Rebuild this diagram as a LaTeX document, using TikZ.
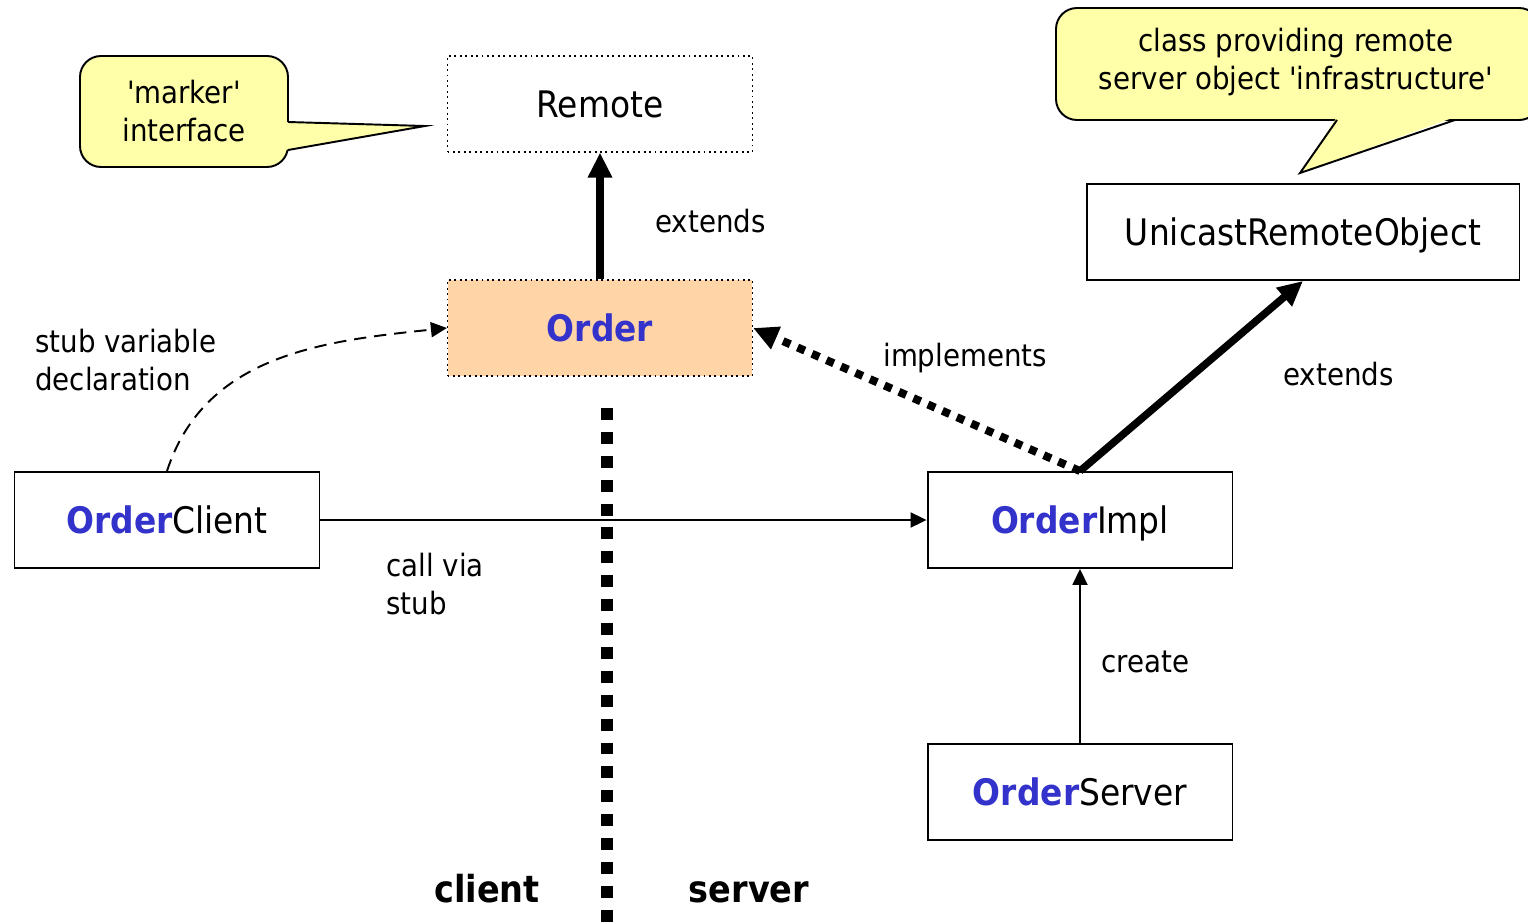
\documentclass[tikz,border=0pt]{standalone}
\usepackage{fontspec}
\setmainfont{DejaVu Sans Condensed}
\usetikzlibrary{arrows.meta,positioning}

\definecolor{ordblue}{RGB}{51,51,204}
\definecolor{peach}{RGB}{255,213,168}
\definecolor{noteyellow}{RGB}{255,255,170}

\newcommand{\ord}{\textcolor{ordblue}{\bfseries Order}}
\newcommand{\sq}{\textquotesingle}

\tikzset{
	cls/.style={draw, line width=1.1pt, minimum width=6.1cm, minimum height=1.92cm, inner sep=0pt, text depth=0pt, font=\fontsize{20.8}{25}\selectfont},
	iface/.style={cls, dotted, line width=0.7pt},
	lbl/.style={inner sep=0pt, anchor=west, align=left, font=\fontsize{17.5}{21.3}\selectfont},
	side/.style={inner sep=0pt, anchor=base, font=\fontsize{21.2}{25}\selectfont\bfseries},
	note/.style={fill=noteyellow, draw, line width=1.1pt, rounded corners=0.42cm},
	thin arrow/.style={line width=1.1pt, -{Triangle[length=0.32cm,width=0.3cm]}},
	fat arrow/.style={line width=0.15cm, -{Triangle[length=0.5cm,width=0.46cm]}},
	impl arrow/.style={line width=0.16cm, dash pattern=on 4.5pt off 4.5pt, -{Triangle[length=0.5cm,width=0.46cm]}},
}

\begin{document}
\begin{tikzpicture}[x=0.02cm, y=-0.02cm]
	\useasboundingbox (0,0) rectangle (1528,923);

	% remarks
	\filldraw[note] (80,56) rectangle (288,167);
	\fill[noteyellow] (285,122) -- (425,126) -- (285,150) -- cycle;
	\draw[line width=1.1pt] (288,122) -- (425,126) -- (288,150);
	\node[align=center, inner sep=0pt, font=\fontsize{17.5}{21.3}\selectfont] (markerNote) at (184,111) {\sq marker\sq\\interface};

	\filldraw[note] (1056,8) rectangle (1540,120);
	\fill[noteyellow] (1337,117) -- (1300,173) -- (1455,117) -- cycle;
	\draw[line width=1.1pt] (1337,120) -- (1300,173) -- (1455,120);
	\node[align=center, inner sep=0pt, font=\fontsize{17.5}{21.3}\selectfont] (infraNote) at (1296,62) {class providing remote\\server object \sq infrastructure\sq};

	% classes
	\node[iface] (remote) at (600,104) {Remote};
	\node[iface, fill=peach] (order) at (600,328) {\ord};
	\node[cls, minimum width=8.66cm] (unicast) at (1303,232) {UnicastRemoteObject};
	\node[cls] (client) at (167,520) {\ord Client};
	\node[cls] (impl) at (1080,520) {\ord Impl};
	\node[cls] (server) at (1080,792) {\ord Server};

	% client / server border
	\coordinate (sepTop) at (607,408);
	\coordinate (sepBot) at (607,930);
	\draw[line width=0.24cm, dash pattern=on 6.8pt off 6.8pt] (sepTop) -- (sepBot);
	\node[side] (clientSide) at (487,902) {client};
	\node[side] (serverSide) at (749,902) {server};

	% relations
	\draw[fat arrow] (order.north) -- (remote.south);
	\draw[fat arrow] (impl.north) -- (unicast.south);
	\draw[impl arrow] (impl.north) -- (order.east);
	\draw[thin arrow] (client.east) -- (impl.west);
	\draw[thin arrow] (server.north) -- (impl.south);
	\draw[line width=1.1pt, dash pattern=on 7pt off 4.5pt, -{Triangle[length=0.32cm,width=0.3cm]}] (client.north) to[out=72, in=186] (order.west);

	\node[lbl] (extendsA) at (655,221) {extends};
	\node[lbl] (implLbl) at (883,358) {implements};
	\node[lbl] (extendsB) at (1283,374) {extends};
	\node[lbl] (createLbl) at (1101,662) {create};
	\node[lbl] (callLbl) at (386,584) {call via\\stub};
	\node[lbl] (stubLbl) at (35,360) {stub variable\\declaration};
\end{tikzpicture}
\end{document}
